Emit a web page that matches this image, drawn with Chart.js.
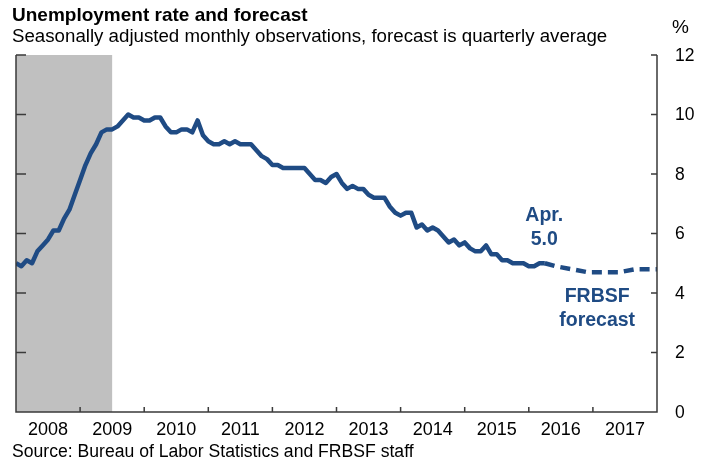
<!DOCTYPE html>
<html>
<head>
<meta charset="utf-8">
<script src="https://cdn.jsdelivr.net/npm/chart.js@4"></script>
<style>
  body { margin: 0; background: #fff; font-family: "Liberation Sans", Arial, sans-serif; }
  #wrap { position: relative; width: 713px; height: 466px; overflow: hidden; }
  #chart { position: absolute; left: 0; top: 0; }
  .txt { position: absolute; white-space: nowrap; color: #000; line-height: 1; }
  #title { left: 12px; top: 5px; font-size: 19px; font-weight: bold; }
  #subtitle { left: 12px; top: 26.5px; font-size: 18.7px; }
  #unit { left: 672px; top: 17px; font-size: 19px; }
  #source { left: 12px; top: 443px; font-size: 17.6px; }
</style>
</head>
<body>
<div id="wrap">
  <canvas id="chart" width="713" height="466"></canvas>
  <div class="txt" id="title">Unemployment rate and forecast</div>
  <div class="txt" id="subtitle">Seasonally adjusted monthly observations, forecast is quarterly average</div>
  <div class="txt" id="unit">%</div>
  <div class="txt" id="source">Source: Bureau of Labor Statistics and FRBSF staff</div>
</div>
<script>
// --- Data ---
// x is months since Jan 2008
const FIRST_YEAR = 2008;
const YEAR_LABELS = ['2008', '2009', '2010', '2011', '2012', '2013', '2014', '2015', '2016', '2017'];
const Y_TICKS = [0, 2, 4, 6, 8, 10, 12];

// monthly unemployment rate, Jan 2008 - Apr 2016
const ACTUAL_RATE = [
    5.0, 4.9, 5.1, 5.0, 5.4, 5.6, 5.8, 6.1, 6.1, 6.5, 6.8, 7.3,
    7.8, 8.3, 8.7, 9.0, 9.4, 9.5, 9.5, 9.6, 9.8, 10.0, 9.9, 9.9,
    9.8, 9.8, 9.9, 9.9, 9.6, 9.4, 9.4, 9.5, 9.5, 9.4, 9.8, 9.3,
    9.1, 9.0, 9.0, 9.1, 9.0, 9.1, 9.0, 9.0, 9.0, 8.8, 8.6, 8.5,
    8.3, 8.3, 8.2, 8.2, 8.2, 8.2, 8.2, 8.0, 7.8, 7.8, 7.7, 7.9,
    8.0, 7.7, 7.5, 7.6, 7.5, 7.5, 7.3, 7.2, 7.2, 7.2, 6.9, 6.7,
    6.6, 6.7, 6.7, 6.2, 6.3, 6.1, 6.2, 6.1, 5.9, 5.7, 5.8, 5.6,
    5.7, 5.5, 5.4, 5.4, 5.6, 5.3, 5.3, 5.1, 5.1, 5.0, 5.0, 5.0,
    4.9, 4.9, 5.0, 5.0
];

// quarterly forecast (month index, rate)
const FORECAST_MONTH = [99, 101, 104, 107, 110, 113, 116, 120];
const FORECAST_RATE = [5.0, 4.9, 4.8, 4.7, 4.7, 4.7, 4.8, 4.8];

// recession shading (month index)
const RECESSION = [0, 18];

const LINE_COLOR = '#1f4b84';
const AXIS_COLOR = '#3a3a3a';
const SHADE_COLOR = '#c0c0c0';
const FONT = '"Liberation Sans", Arial, sans-serif';

// --- Custom drawing: shading, axis frame, inward ticks, labels, notes ---
const framePlugin = {
    id: 'frame',
    beforeDatasetsDraw(chart) {
        const { ctx, chartArea: a, scales: { x } } = chart;
        ctx.save();
        ctx.fillStyle = SHADE_COLOR;
        const x0 = x.getPixelForValue(RECESSION[0]);
        const x1 = x.getPixelForValue(RECESSION[1]);
        ctx.fillRect(x0, a.top, x1 - x0, a.bottom - a.top);
        ctx.restore();
    },
    afterDraw(chart) {
        const { ctx, chartArea: a, scales: { x, y } } = chart;
        ctx.save();
        ctx.strokeStyle = AXIS_COLOR;
        ctx.lineWidth = 1.5;
        ctx.beginPath();
        ctx.moveTo(a.left, a.top);
        ctx.lineTo(a.left, a.bottom);
        ctx.lineTo(a.right, a.bottom);
        ctx.lineTo(a.right, a.top);
        Y_TICKS.forEach(v => {
            const py = y.getPixelForValue(v);
            ctx.moveTo(a.left, py);
            ctx.lineTo(a.left + 10, py);
            ctx.moveTo(a.right, py);
            ctx.lineTo(a.right - 6, py);
        });
        for (let i = 1; i < YEAR_LABELS.length; i++) {
            const px = x.getPixelForValue(i * 12);
            ctx.moveTo(px, a.bottom);
            ctx.lineTo(px, a.bottom - 5);
        }
        ctx.stroke();

        // right axis labels, left aligned next to the axis
        ctx.fillStyle = '#000';
        ctx.font = '17.5px ' + FONT;
        ctx.textAlign = 'left';
        ctx.textBaseline = 'middle';
        Y_TICKS.forEach(v => {
            ctx.fillText(String(v), a.right + 18, y.getPixelForValue(v) + 1);
        });

        ctx.fillStyle = LINE_COLOR;
        ctx.font = 'bold 19.5px ' + FONT;
        ctx.textAlign = 'center';
        const nx = x.getPixelForValue(98.9);
        ctx.fillText('Apr.', nx, y.getPixelForValue(6.6));
        ctx.fillText('5.0', nx, y.getPixelForValue(5.8));
        const fx = x.getPixelForValue(108.8);
        ctx.fillText('FRBSF', fx, y.getPixelForValue(3.88));
        ctx.fillText('forecast', fx, y.getPixelForValue(3.07));
        ctx.restore();
    }
};

const actualPoints = ACTUAL_RATE.map((v, i) => ({ x: i, y: v }));
const forecastPoints = FORECAST_MONTH.map((m, i) => ({ x: m, y: FORECAST_RATE[i] }));

new Chart(document.getElementById('chart'), {
    type: 'line',
    data: {
        datasets: [
            { data: actualPoints, borderColor: LINE_COLOR, borderWidth: 4.5, pointRadius: 0, tension: 0, borderJoinStyle: 'round' },
            { data: forecastPoints, borderColor: LINE_COLOR, borderWidth: 4.5, pointRadius: 0, tension: 0, borderDash: [10, 6] }
        ]
    },
    options: {
        responsive: false,
        animation: false,
        layout: { padding: { left: 16, top: 55, right: 0, bottom: 0 } },
        plugins: { legend: { display: false }, tooltip: { enabled: false } },
        scales: {
            x: {
                type: 'linear',
                min: 0,
                max: YEAR_LABELS.length * 12,
                grid: { display: false, drawTicks: false },
                border: { display: false },
                afterBuildTicks(scale) {
                    scale.ticks = YEAR_LABELS.map((l, i) => ({ value: i * 12 + 6 }));
                },
                afterFit(scale) { scale.height = 54; },
                ticks: {
                    autoSkip: false,
                    maxRotation: 0,
                    padding: 7,
                    color: '#000',
                    font: { family: FONT, size: 18 },
                    callback: v => String(FIRST_YEAR + Math.floor(v / 12))
                }
            },
            y: {
                position: 'right',
                min: 0,
                max: 12,
                grid: { display: false, drawTicks: false },
                border: { display: false },
                afterFit(scale) { scale.width = 56; },
                ticks: { display: false, stepSize: 2 }
            }
        }
    },
    plugins: [framePlugin]
});
</script>
</body>
</html>
